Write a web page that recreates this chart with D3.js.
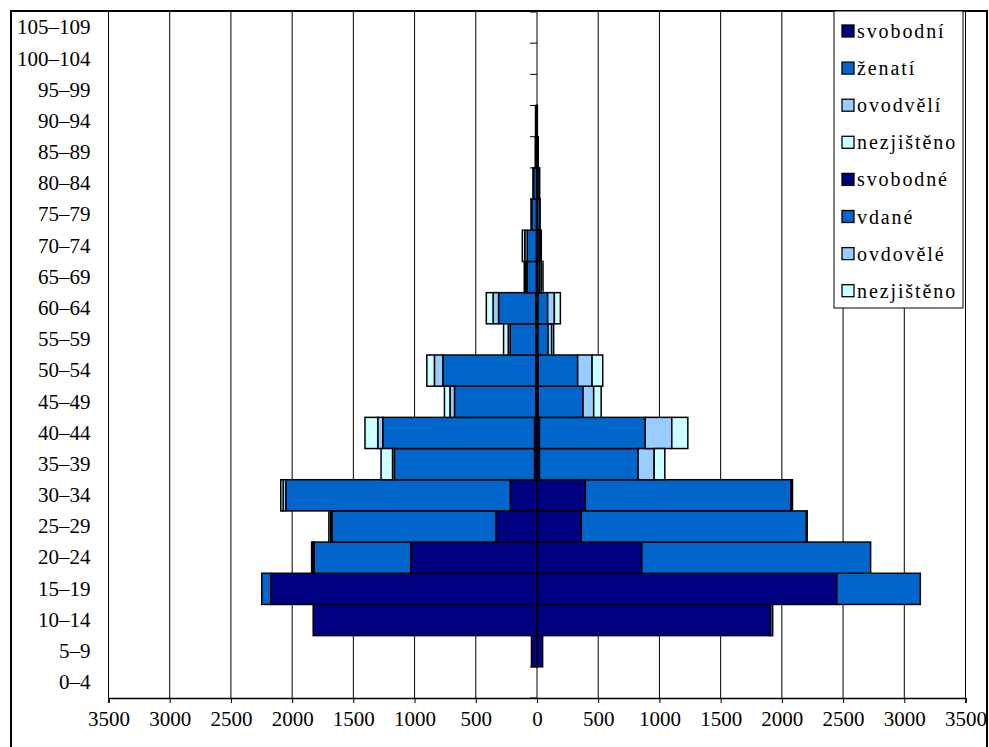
<!DOCTYPE html>
<html><head><meta charset="utf-8">
<script src="https://cdn.jsdelivr.net/npm/d3@7"></script>
<style>body{margin:0;background:#fff} svg{display:block}</style>
</head><body><svg id="c" width="989" height="747"></svg>
<script>
const ageGroups = ["0–4","5–9","10–14","15–19","20–24","25–29","30–34","35–39","40–44","45–49","50–54","55–59","60–64","65–69","70–74","75–79","80–84","85–89","90–94","95–99","100–104","105–109"];

const menSingle   = [0,45,1828,2174,1031,336,218,20,20,10,10,8,10,5,5,5,3,3,2,0,0,0];
const menMarried  = [0,0,0,74,789,1339,1834,1145,1240,664,759,212,304,77,75,38,25,8,5,0,0,0];
const menWidowed  = [0,0,0,0,10,12,22,15,41,37,69,15,45,12,20,6,5,3,5,0,0,0];
const menUnknown  = [0,0,0,0,11,13,19,94,104,45,62,38,55,10,20,0,0,0,0,0,0,0];

const womenSingle  = [0,46,1905,2449,856,362,395,20,20,10,10,8,8,5,5,4,3,3,1,0,0,0];
const womenMarried = [0,0,20,682,1869,1839,1678,806,864,366,322,82,79,16,15,18,15,5,2,0,0,0];
const womenWidowed = [0,0,0,0,0,3,8,131,217,87,118,30,55,15,8,3,4,2,0,0,0,0];
const womenUnknown = [0,0,0,0,0,2,6,87,131,61,87,16,49,13,7,0,0,0,0,0,0,0];

const legendLabels = ["svobodní","ženatí","ovodvělí","nezjištěno","svobodné","vdané","ovdovělé","nezjištěno"];
const xTicks = [-3500,-3000,-2500,-2000,-1500,-1000,-500,0,500,1000,1500,2000,2500,3000,3500];
const colors = ["#000080","#0066CC","#99CCFF","#CCFFFF"];

const svg = d3.select("#c");
const plot = {left:108.5, right:965.5, top:12, bottom:698};
const x = d3.scaleLinear().domain([-3500,3500]).range([plot.left, plot.right]);
const y = d3.scaleBand().domain(ageGroups.slice().reverse()).range([plot.top, plot.bottom]).padding(0);
const serif = "'Liberation Serif', 'Times New Roman', serif";

// outer border
svg.append("rect").attr("x",11).attr("y",11).attr("width",976).attr("height",800)
  .attr("fill","#fff").attr("stroke","#000").attr("stroke-width",2);

// gridlines
svg.append("g").selectAll("line").data(xTicks.filter(d=>d!==0)).join("line")
  .attr("x1",d=>x(d)).attr("x2",d=>x(d)).attr("y1",plot.top-1).attr("y2",plot.bottom)
  .attr("stroke","#000").attr("stroke-width",1);

// center axis
const cx = x(0);
svg.append("line").attr("x1",cx).attr("x2",cx).attr("y1",plot.top).attr("y2",plot.bottom)
  .attr("stroke","#000").attr("stroke-width",1);
const bounds = ageGroups.map(a=>y(a)).concat([plot.bottom]);
svg.append("g").selectAll("line").data(bounds).join("line")
  .attr("x1",cx-7).attr("x2",cx).attr("y1",d=>d).attr("y2",d=>d)
  .attr("stroke","#000").attr("stroke-width",1);

// data tables
const menTable = ageGroups.map((a,i)=>({age:a, s:menSingle[i], m:menMarried[i], w:menWidowed[i], u:menUnknown[i]}));
const womenTable = ageGroups.map((a,i)=>({age:a, s:womenSingle[i], m:womenMarried[i], w:womenWidowed[i], u:womenUnknown[i]}));
const stack = d3.stack().keys(["s","m","w","u"]);
const menSeries = stack(menTable);
const womenSeries = stack(womenTable);

const bars = svg.append("g");
menSeries.forEach((ser,k)=>{
  bars.append("g").selectAll("rect").data(ser.filter(d=>d[1]-d[0]>0)).join("rect")
    .attr("x",d=>x(-d[1])).attr("width",d=>x(-d[0])-x(-d[1]))
    .attr("y",d=>y(d.data.age)).attr("height",y.bandwidth())
    .attr("fill",colors[k]).attr("stroke","#000").attr("stroke-width",1.5);
});
womenSeries.forEach((ser,k)=>{
  bars.append("g").selectAll("rect").data(ser.filter(d=>d[1]-d[0]>0)).join("rect")
    .attr("x",d=>x(d[0])).attr("width",d=>x(d[1])-x(d[0]))
    .attr("y",d=>y(d.data.age)).attr("height",y.bandwidth())
    .attr("fill",colors[k]).attr("stroke","#000").attr("stroke-width",1.5);
});

// x axis
const xAxis = svg.append("g").attr("transform",`translate(0,${plot.bottom})`)
  .call(d3.axisBottom(x).tickValues(xTicks).tickFormat(d=>Math.abs(d)).tickSize(5).tickPadding(8));
xAxis.select(".domain").attr("stroke","#000").attr("stroke-width",1.5);
xAxis.selectAll(".tick line").attr("stroke","#000");
xAxis.selectAll("text").attr("font-family",serif).attr("font-size",21).attr("fill","#000");

// y labels
const yAxis = svg.append("g").attr("transform",`translate(${plot.left},0)`)
  .call(d3.axisLeft(y).tickSize(0).tickPadding(18));
yAxis.select(".domain").remove();
yAxis.selectAll("text").attr("font-family",serif).attr("font-size",21).attr("fill","#000");

// legend
const leg = svg.append("g");
leg.append("rect").attr("x",834).attr("y",11).attr("width",129).attr("height",297)
  .attr("fill","#fff").attr("stroke","#000").attr("stroke-width",1);
const legColors = colors.concat(colors);
const items = leg.selectAll("g.item").data(legendLabels).join("g").attr("class","item")
  .attr("transform",(d,i)=>`translate(0,${31 + i*37.1})`);
items.append("rect").attr("x",842).attr("y",-6).attr("width",12).attr("height",12)
  .attr("fill",(d,i)=>legColors[i]).attr("stroke","#000").attr("stroke-width",1.3);
items.append("text").attr("x",857).attr("y",0).attr("dy","0.35em")
  .attr("font-family",serif).attr("font-size",20)
  .attr("letter-spacing","1.9px").text(d=>d);
</script>
</body></html>
